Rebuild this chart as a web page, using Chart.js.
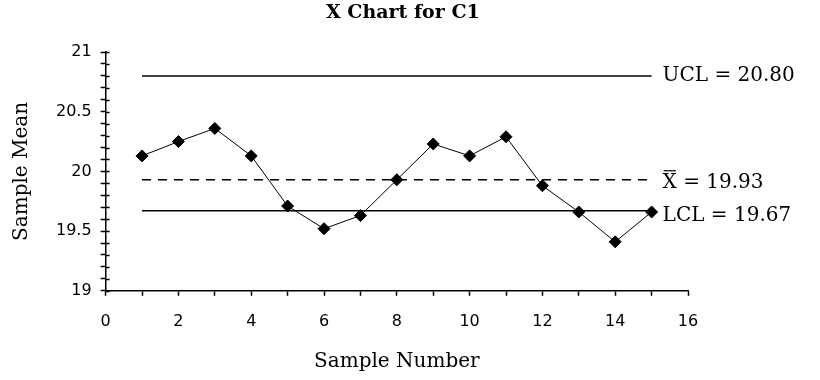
<!DOCTYPE html>
<html>
<head>
<meta charset="utf-8">
<script src="https://cdn.jsdelivr.net/npm/chart.js@4/dist/chart.umd.min.js"></script>
<style>
  body { margin: 0; background: #fff; }
  #wrap { width: 820px; height: 380px; }
</style>
</head>
<body>
<div id="wrap"><canvas id="xChart"></canvas></div>
<script>
// sample means
const samples = [1, 2, 3, 4, 5, 6, 7, 8, 9, 10, 11, 12, 13, 14, 15];
const means = [20.13, 20.25, 20.36, 20.13, 19.71, 19.52, 19.63, 19.93, 20.23, 20.13, 20.29, 19.88, 19.66, 19.41, 19.66];

const ucl = 20.80;
const centre = 19.93;
const lcl = 19.67;
const lineFrom = 1;
const lineTo = 15;

const chartTitle = "X Chart for C1";
const xTitle = "Sample Number";
const yTitle = "Sample Mean";

const points = samples.map((s, i) => ({ x: s, y: means[i] }));
function flat(v) {
	return [{ x: lineFrom, y: v }, { x: lineTo, y: v }];
}

// ticks that cross the axis, title over the plot, labels on the right
const extras = {
	id: "extras",
	afterDraw(chart) {
		const ctx = chart.ctx;
		const area = chart.chartArea;
		const xs = chart.scales.x;
		const ys = chart.scales.y;
		ctx.save();
		ctx.strokeStyle = "#000";
		ctx.lineWidth = 1.5;
		ys.ticks.forEach(t => {
			const py = Math.round(ys.getPixelForValue(t.value)) + 0.5;
			ctx.beginPath();
			ctx.moveTo(area.left, py);
			ctx.lineTo(area.left + 4, py);
			ctx.stroke();
		});

		ctx.fillStyle = "#000";
		ctx.font = "bold 19px 'DejaVu Serif'";
		ctx.textAlign = "center";
		ctx.textBaseline = "middle";
		ctx.fillText(chartTitle, (area.left + area.right) / 2 + 6, 13);

		ctx.font = "20px 'DejaVu Serif'";
		ctx.textAlign = "left";
		const lx = xs.getPixelForValue(lineTo) + 11;
		ctx.fillText("UCL = " + ucl.toFixed(2), lx, ys.getPixelForValue(ucl));
		const cy = ys.getPixelForValue(centre) + 3;
		const label = "X = " + centre.toFixed(2);
		ctx.fillText(label, lx, cy);
		const xw = ctx.measureText("X").width;
		ctx.lineWidth = 1.2;
		ctx.beginPath();
		ctx.moveTo(lx + 1, cy - 12);
		ctx.lineTo(lx + xw - 1, cy - 12);
		ctx.stroke();
		ctx.fillText("LCL = " + lcl.toFixed(2), lx, ys.getPixelForValue(lcl) + 5);
		ctx.restore();
	}
};

new Chart(document.getElementById("xChart"), {
	type: "scatter",
	data: {
		datasets: [
			{
				data: points,
				showLine: true,
				borderColor: "#000",
				backgroundColor: "#000",
				borderWidth: 1,
				pointStyle: "rectRot",
				pointRadius: 6,
				pointHoverRadius: 6
			},
			{
				data: flat(ucl),
				showLine: true,
				borderColor: "#000",
				borderWidth: 1.5,
				pointRadius: 0
			},
			{
				data: flat(centre),
				showLine: true,
				borderColor: "#000",
				borderWidth: 1.5,
				borderDash: [9, 7],
				pointRadius: 0
			},
			{
				data: flat(lcl),
				showLine: true,
				borderColor: "#000",
				borderWidth: 1.5,
				pointRadius: 0
			}
		]
	},
	options: {
		responsive: true,
		maintainAspectRatio: false,
		animation: false,
		layout: { padding: { top: 52, right: 132, left: 6, bottom: 2 } },
		plugins: {
			legend: { display: false },
			tooltip: { enabled: false },
			title: { display: false }
		},
		scales: {
			x: {
				type: "linear",
				min: 0,
				max: 16,
				border: { display: true, color: "#000", width: 1.5 },
				grid: { drawOnChartArea: false, drawTicks: true, tickLength: 5, color: "#000", tickWidth: 1.5 },
				ticks: {
					stepSize: 1,
					autoSkip: false,
					maxRotation: 0,
					color: "#000",
					padding: 16,
					font: { family: "'DejaVu Sans'", size: 16 },
					callback: v => (v % 2 === 0 ? String(v) : "")
				},
				title: {
					display: true,
					text: xTitle,
					color: "#000",
					padding: { top: 3 },
					font: { family: "'DejaVu Serif'", size: 20 }
				}
			},
			y: {
				min: 19,
				max: 21,
				border: { display: true, color: "#000", width: 1.5 },
				grid: { drawOnChartArea: false, drawTicks: true, tickLength: 5, color: "#000", tickWidth: 1.5 },
				ticks: {
					stepSize: 0.1,
					autoSkip: false,
					color: "#000",
					padding: 9,
					font: { family: "'DejaVu Sans'", size: 16 },
					callback: v => {
						const r = Math.round(v * 10) / 10;
						return Math.abs(r * 2 - Math.round(r * 2)) < 1e-6 ? String(r) : "";
					}
				},
				title: {
					display: true,
					text: yTitle,
					color: "#000",
					padding: { bottom: 13 },
					font: { family: "'DejaVu Serif'", size: 20 }
				}
			}
		}
	},
	plugins: [extras]
});
</script>
</body>
</html>
